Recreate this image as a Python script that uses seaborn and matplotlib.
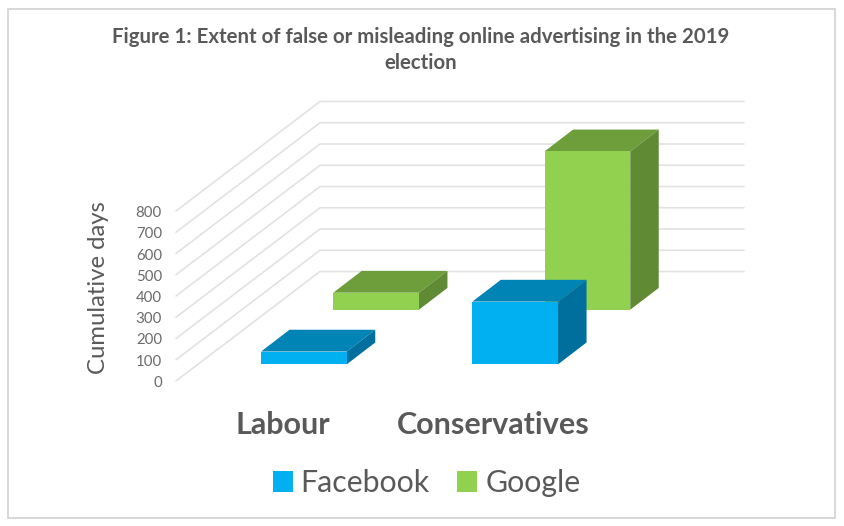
import matplotlib
matplotlib.use("Agg")
import matplotlib.pyplot as plt
from matplotlib.patches import Patch, Rectangle
import pandas as pd
import seaborn as sns

# --- data ---
parties = ["Labour", "Conservatives"]
facebook_days = [60, 295]
google_days = [80, 745]
value_ticks = [0, 100, 200, 300, 400, 500, 600, 700, 800]
title_text = "Figure 1: Extent of false or misleading online advertising in the 2019\nelection"
y_label = "Cumulative days"
series_names = ["Facebook", "Google"]

# --- style ---
W, H = 844, 526
GREY = "#595959"
TICK_GREY = "#6b6b6b"
GRID = "#e2e2e2"
COL = {
    "Facebook": dict(front="#00B0F0", top="#0083B5", side="#006F9E"),
    "Google": dict(front="#92D050", top="#6E9D3C", side="#608A33"),
}
FONT = "Lato"
PX_PER_UNIT = 170 / 800        # vertical scale of the value axis
FLOOR_FRONT = (176, 381)       # value 0 at the front-left of the floor
FLOOR_BACK = (320, 271.5)      # value 0 at the back-left wall
WALL_RIGHT = 744
CAT_STEP = 211.3               # pixels between the two categories
BAR_WIDTH = 0.4056             # in category units
BAR_DEPTH = (28.5, 21.8)       # oblique offset of a bar's back face, pixels
PLANES = {"Facebook": (303.9, 364.3), "Google": (376.1, 309.7)}  # first-bar centre, baseline

sns.set_theme(style="white", rc={"font.family": FONT})
plt.rcParams["font.family"] = [FONT, "DejaVu Sans"]

fig = plt.figure(figsize=(W / 100, H / 100), dpi=100, facecolor="white")

base = fig.add_axes([0, 0, 1, 1])
base.set_xlim(0, W)
base.set_ylim(H, 0)
base.axis("off")

base.add_patch(Rectangle((7.5, 8.5), 827, 509, fill=False, ec="#d4d4d4", lw=1.3))

# walls and gridlines, from the value ticks
for v in value_ticks:
    dy = v * PX_PER_UNIT
    base.plot([FLOOR_FRONT[0], FLOOR_BACK[0], WALL_RIGHT],
              [FLOOR_FRONT[1] - dy, FLOOR_BACK[1] - dy, FLOOR_BACK[1] - dy],
              color=GRID, lw=1.2, solid_joinstyle="miter", zorder=1)
    base.text(FLOOR_FRONT[0] - 14, FLOOR_FRONT[1] - dy + 2, f"{v}", ha="right", va="center",
              fontsize=10.8, color=TICK_GREY)

base.text(98.5, 288, y_label, rotation=90, ha="center", va="center", fontsize=17.2, color=GREY)
fig.text(421 / W, 1 - 50 / H, title_text, ha="center", va="center", fontsize=14.7,
         fontweight="bold", color=GREY, linespacing=1.4)


def draw_series(name, values):
    cx, baseline = PLANES[name]
    span = CAT_STEP * 2
    ax = fig.add_axes([(cx - CAT_STEP / 2) / W, 1 - baseline / H,
                       span / W, 800 * PX_PER_UNIT / H])
    ax.patch.set_alpha(0)
    df = pd.DataFrame({"party": parties, "days": values})
    sns.barplot(data=df, x="party", y="days", ax=ax, color=COL[name]["front"],
                saturation=1, width=BAR_WIDTH, errorbar=None, zorder=3,
                linewidth=0, edgecolor="none")
    ax.set_xlim(-0.5, 1.5)
    ax.set_ylim(0, 800)
    ax.axis("off")
    dx = BAR_DEPTH[0] / CAT_STEP
    dv = BAR_DEPTH[1] / PX_PER_UNIT
    for i, v in enumerate(values):
        x0, x1 = i - BAR_WIDTH / 2, i + BAR_WIDTH / 2
        ax.fill([x0, x1, x1 + dx, x0 + dx], [v, v, v + dv, v + dv],
                color=COL[name]["top"], lw=0, clip_on=False, zorder=2)
        ax.fill([x1, x1 + dx, x1 + dx, x1], [0, dv, v + dv, v],
                color=COL[name]["side"], lw=0, clip_on=False, zorder=2)
    return ax


draw_series("Google", google_days)
ax_fb = draw_series("Facebook", facebook_days)

# category labels and legend sit on top, in figure pixels
over = fig.add_axes([0, 0, 1, 1])
over.set_xlim(0, W)
over.set_ylim(H, 0)
over.axis("off")
for label, xc in zip(parties, [282.5, 493.5]):
    over.text(xc, 425, label, ha="center", va="center", fontsize=22, fontweight="bold", color=GREY)

handles = [Patch(facecolor=COL[n]["front"], lw=0, edgecolor="none") for n in series_names]
over.legend(handles, series_names, loc="center", bbox_to_anchor=(426.5 / W, 1 - 483 / H),
            ncol=2, frameon=False, fontsize=21.8, labelcolor=GREY, handlelength=0.66,
            handleheight=0.66, handletextpad=0.27, columnspacing=0.9, borderpad=0, borderaxespad=0)

fig.savefig("out.png", dpi=100, facecolor="white")
